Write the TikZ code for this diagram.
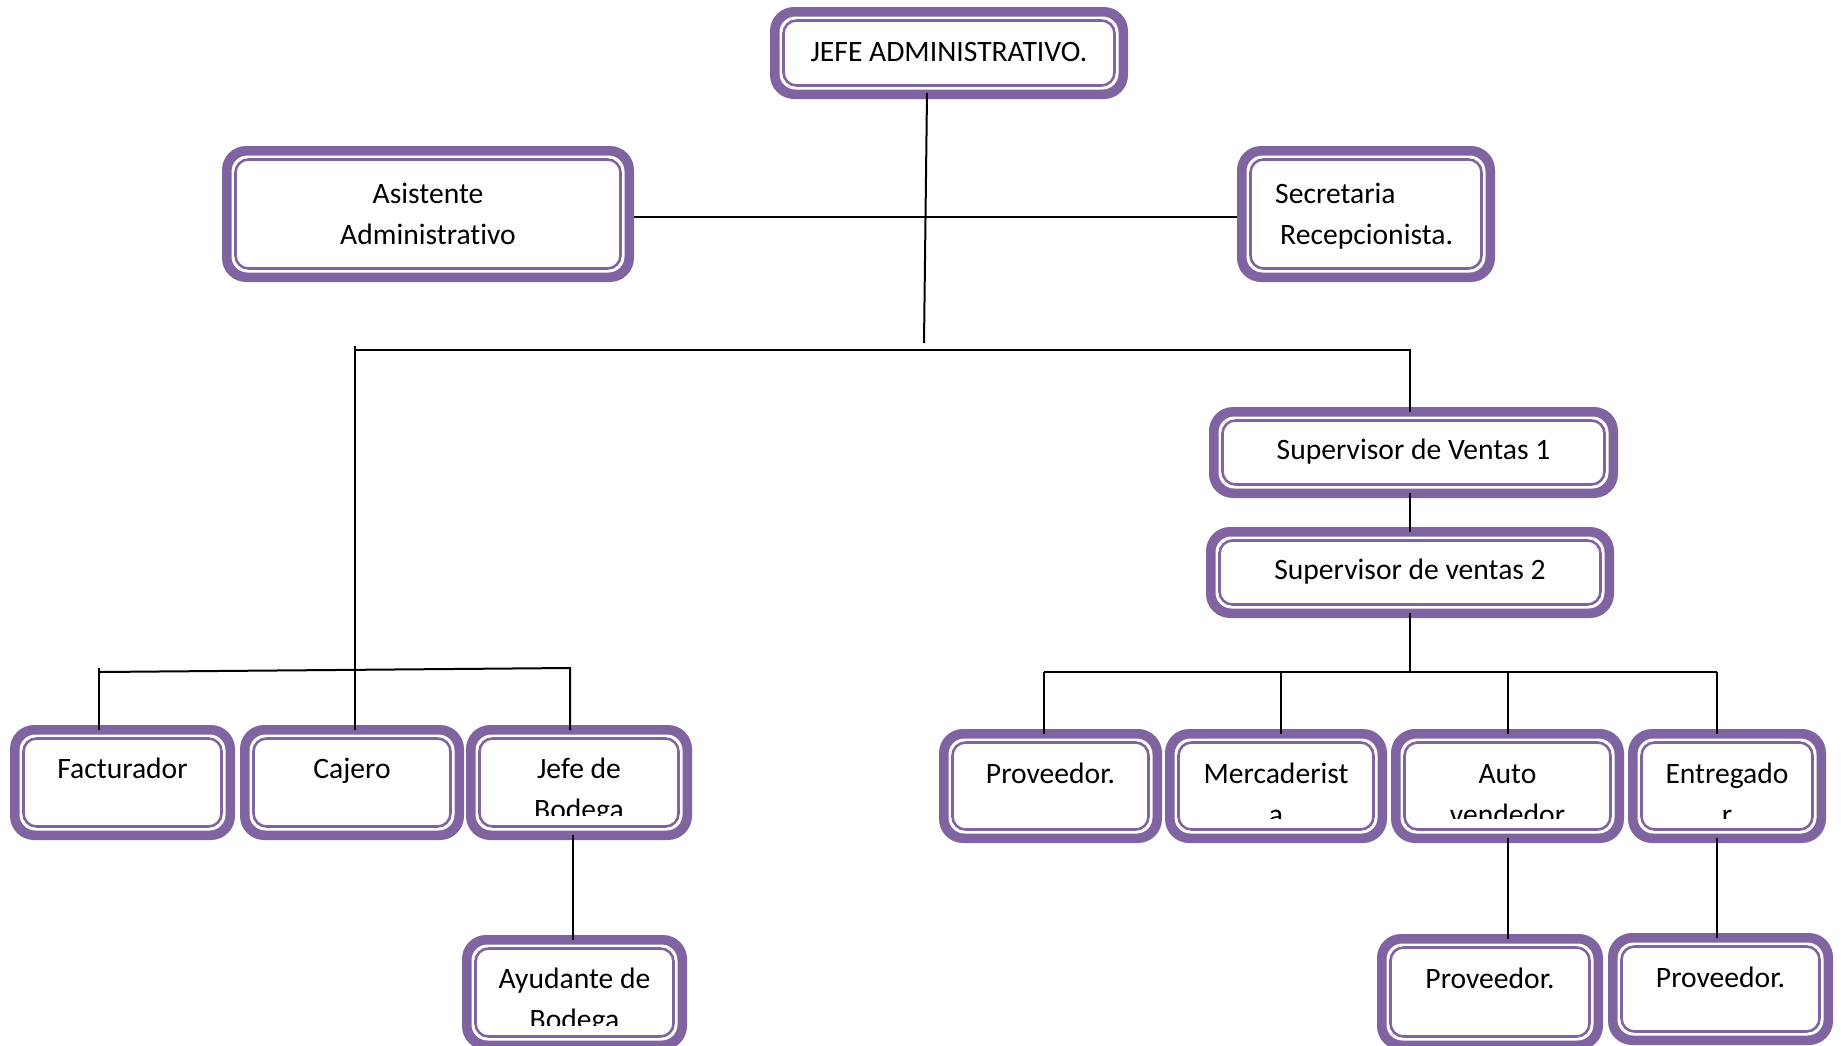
\documentclass[tikz,border=0pt]{standalone}
\usepackage{fontspec}
\setmainfont{Carlito}[Ligatures=NoCommon]
\definecolor{boxpurple}{HTML}{8064A2}

\tikzset{
  boxband/.style={rectangle, fill=boxpurple, rounded corners=24pt, inner sep=0pt, outer sep=0pt},
  boxgap/.style={fill=white, rounded corners=16pt},
  boxrim/.style={draw=boxpurple, line width=2.6pt, rounded corners=13pt},
  boxtext/.style={inner sep=0pt, anchor=base, font=\fontsize{29.6}{41}\selectfont},
  wire/.style={draw=black, line width=2pt},
}

% name, x1, y1, x2, y2, first baseline, text (lines separated by \\)
\newcommand\orgbox[7]{%
  \node[boxband, minimum width={(#4)-(#2)}, minimum height={(#5)-(#3)}] (#1)
    at ({((#2)+(#4))/2},{((#3)+(#5))/2}) {};
  \fill[boxgap] ([shift={(9.5,9.5)}]#1.north west) rectangle ([shift={(-9.5,-9.5)}]#1.south east);
  \draw[boxrim] ([shift={(13.5,13.5)}]#1.north west) rectangle ([shift={(-13.5,-13.5)}]#1.south east);
  \begin{scope}
    \clip (#2,#3) rectangle (#4,{(#5)-25});
    \node[boxtext] (#1-text) at ({((#2)+(#4))/2},#6)
      {\begin{tabular}[t]{@{}c@{}}#7\end{tabular}};
  \end{scope}
}

\begin{document}
\begin{tikzpicture}[x=1pt, y=-1pt]
  \useasboundingbox (0,0) rectangle (1841,1045);
  \clip (0,0) rectangle (1841,1045);
  \fill[white] (0,0) rectangle (1841,1045);

  % top level
  \orgbox{jefe}{770}{7}{1128}{99}{61}{JEFE ADMINISTRATIVO.}
  \orgbox{asis}{222}{146}{634}{282}{203}{Asistente\\Administrativo}
  \orgbox{secr}{1237}{146}{1495}{282}{203}{}
  \node[boxtext, anchor=base west] (secr-label) at (1275,203)
    {\begin{tabular}[t]{@{}l@{}}Secretaria\\\hspace*{5pt}Recepcionista.\end{tabular}};

  % sales supervisors
  \orgbox{supa}{1209}{407}{1618}{498}{459}{Supervisor de Ventas 1}
  \orgbox{supb}{1206}{527}{1614}{618}{579}{Supervisor de ventas 2}

  % left branch
  \orgbox{fact}{10}{725}{235}{840}{778}{Facturador}
  \orgbox{caje}{240}{725}{464}{840}{778}{Cajero}
  \orgbox{jbod}{466}{725}{692}{840}{778}{Jefe de\\Bodega}
  \orgbox{ayud}{462}{935}{687}{1050}{988}{Ayudante de\\Bodega}

  % right branch
  \orgbox{prova}{939}{729}{1162}{843}{783}{Proveedor.}
  \orgbox{merc}{1165}{729}{1387}{843}{783}{Mercaderist\\a}
  \orgbox{auto}{1391}{729}{1624}{843}{783}{Auto\\vendedor}
  \orgbox{entr}{1628}{729}{1826}{843}{783}{Entregado\\r}
  \orgbox{provb}{1377}{934}{1603}{1050}{988}{Proveedor.}
  \orgbox{provc}{1608}{933}{1833}{1045}{987}{Proveedor.}

  % junction points
  \coordinate (hub) at (924,343);
  \coordinate (busl) at (355,350);
  \coordinate (busr) at (1410,350);
  \coordinate (subl) at (99,672);
  \coordinate (subr) at (570,668);
  \coordinate (salesbus) at (1410,672);
  \coordinate (pa) at (1044,672);
  \coordinate (pm) at (1281,672);
  \coordinate (pu) at (1508,672);
  \coordinate (pe) at (1717,672);

  % connectors (canvas shifts: positive yshift points up)
  \draw[wire] ([xshift=-22,yshift=6]jefe.south) -- (hub);
  \draw[wire] ([yshift=-3]asis.east) -- ([yshift=-3]asis.east -| secr.west);
  \draw[wire] ([yshift=4]busl) -- ([yshift=-5]busl |- caje.north);
  \draw[wire] (busl) -- (busr) -- ([yshift=-5]busr |- supa.north);
  \draw[wire] ([yshift=4]subl) -- ([yshift=-5]subl |- fact.north);
  \draw[wire] (subl) -- (subr) -- ([yshift=-5]subr |- jbod.north);
  \draw[wire] ([xshift=-6,yshift=5]jbod.south) -- ([xshift=-6,yshift=-5]jbod.south |- ayud.north);
  \draw[wire] ([yshift=5]busr |- supa.south) -- ([yshift=-5]busr |- supb.north);
  \draw[wire] ([yshift=5]salesbus |- supb.south) -- (salesbus);
  \draw[wire] (pa) -- (pe);
  \draw[wire] (pa) -- ([yshift=-5]pa |- prova.north);
  \draw[wire] (pm) -- ([yshift=-5]pm |- merc.north);
  \draw[wire] (pu) -- ([yshift=-5]pu |- auto.north);
  \draw[wire] (pe) -- ([yshift=-5]pe |- entr.north);
  \draw[wire] ([yshift=5]pu |- auto.south) -- ([yshift=-5]pu |- provb.north);
  \draw[wire] ([yshift=5]pe |- entr.south) -- ([yshift=-5]pe |- provc.north);
\end{tikzpicture}
\end{document}
